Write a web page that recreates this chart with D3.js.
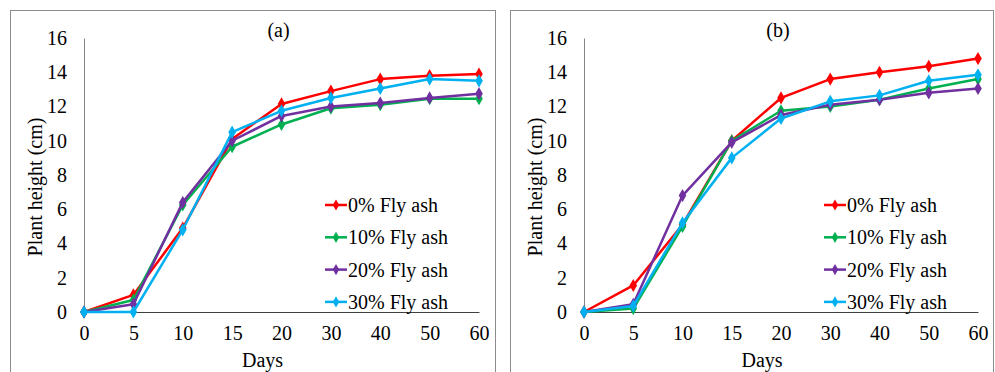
<!DOCTYPE html>
<html>
<head>
<meta charset="utf-8">
<script src="https://cdn.jsdelivr.net/npm/d3@7"></script>
<style>
body { margin: 0; background: #fff; }
</style>
</head>
<body>
<svg width="995" height="372"></svg>
<script>
var svg = d3.select('svg');

var days = ['0', '5', '10', '15', '20', '30', '40', '50', '60'];
var seriesNames = ['0% Fly ash', '10% Fly ash', '20% Fly ash', '30% Fly ash'];
var colors = ['#ff0000', '#00b050', '#7030a0', '#00b0f0'];
var yTicks = [0, 2, 4, 6, 8, 10, 12, 14, 16];

// panel (a)
var a0 = [0, 1.0, 4.9, 10.1, 12.15, 12.9, 13.6, 13.8, 13.9];
var a10 = [0, 0.7, 6.25, 9.65, 10.95, 11.9, 12.1, 12.45, 12.45];
var a20 = [0, 0.45, 6.4, 10.0, 11.45, 12.0, 12.2, 12.5, 12.75];
var a30 = [0, 0, 4.8, 10.5, 11.75, 12.5, 13.05, 13.6, 13.5];

// panel (b)
var b0 = [0, 1.55, 5.1, 10.0, 12.5, 13.6, 14.0, 14.35, 14.8];
var b10 = [0, 0.2, 5.0, 10.0, 11.75, 12.0, 12.4, 13.05, 13.6];
var b20 = [0, 0.45, 6.8, 9.9, 11.5, 12.1, 12.4, 12.8, 13.05];
var b30 = [0, 0.35, 5.2, 9.0, 11.3, 12.3, 12.65, 13.5, 13.85];

var panels = [
    {label: '(a)', frame: [10.5, 10.5, 485, 380], left: 84, right: 479, series: [a0, a10, a20, a30]},
    {label: '(b)', frame: [510.5, 10.5, 483, 380], left: 584, right: 978, series: [b0, b10, b20, b30]}
];

var plotTop = 38, plotBottom = 312;
var serif = '"Liberation Serif", "Times New Roman", serif';

panels.forEach(function(p) {
    svg.append('rect')
        .attr('x', p.frame[0]).attr('y', p.frame[1])
        .attr('width', p.frame[2]).attr('height', p.frame[3])
        .attr('fill', 'none')
        .attr('stroke', '#8c8c8c')
        .attr('stroke-width', 1);

    var x = d3.scalePoint().domain(days).range([p.left, p.right]);
    var y = d3.scaleLinear().domain([0, 16]).range([plotBottom, plotTop]);

    // y axis
    var yAxis = svg.append('g')
        .attr('transform', 'translate(' + p.left + ',0)')
        .call(d3.axisLeft(y).tickValues(yTicks).tickSize(0).tickPadding(17))
        .attr('font-family', serif).attr('font-size', 20);
    yAxis.select('.domain').attr('stroke', '#868686').attr('stroke-width', 1);

    // x axis
    var xAxis = svg.append('g')
        .attr('transform', 'translate(0,' + plotBottom + ')')
        .call(d3.axisBottom(x).tickSize(0).tickPadding(14))
        .attr('font-family', serif).attr('font-size', 20);
    xAxis.select('.domain').attr('stroke', '#404040').attr('stroke-width', 1);

    svg.append('text')
        .attr('x', (p.left + p.right) / 2 - 3)
        .attr('y', 37)
        .attr('text-anchor', 'middle')
        .attr('font-size', 20)
        .attr('font-family', serif)
        .text(p.label);

    svg.append('text')
        .attr('x', (p.left + p.right) / 2 - 19)
        .attr('y', 367)
        .attr('text-anchor', 'middle')
        .attr('font-size', 20)
        .attr('font-family', serif)
        .text('Days');

    svg.append('text')
        .attr('transform', 'translate(' + (p.left - 42) + ',' + 187 + ') rotate(-90)')
        .attr('text-anchor', 'middle')
        .attr('font-size', 20)
        .attr('font-family', serif)
        .text('Plant height (cm)');

    var line = d3.line()
        .x(function(d, i) { return x(days[i]); })
        .y(function(d) { return y(d); });

    var diamond = d3.symbol().type(d3.symbolDiamond).size(50);

    p.series.forEach(function(s, k) {
        svg.append('path')
            .datum(s)
            .attr('d', line)
            .attr('fill', 'none')
            .attr('stroke', colors[k])
            .attr('stroke-width', 2.5)
            .attr('stroke-linejoin', 'round');

        svg.selectAll(null)
            .data(s)
            .enter()
            .append('path')
            .attr('d', diamond)
            .attr('transform', function(d, i) { return 'translate(' + x(days[i]) + ',' + y(d) + ')'; })
            .attr('fill', colors[k]);
    });

    // legend
    var lx = p.right - 154;
    var legend = svg.append('g');
    seriesNames.forEach(function(name, k) {
        var ly = 205 + k * 32.3;
        legend.append('line')
            .attr('x1', lx).attr('x2', lx + 22)
            .attr('y1', ly).attr('y2', ly)
            .attr('stroke', colors[k])
            .attr('stroke-width', 2.5);
        legend.append('path')
            .attr('d', d3.symbol().type(d3.symbolDiamond).size(36))
            .attr('transform', 'translate(' + (lx + 11) + ',' + ly + ')')
            .attr('fill', colors[k]);
        legend.append('text')
            .attr('x', lx + 23)
            .attr('y', ly + 7)
            .attr('font-size', 20)
            .attr('font-family', serif)
            .text(name);
    });
});
</script>
</body>
</html>
